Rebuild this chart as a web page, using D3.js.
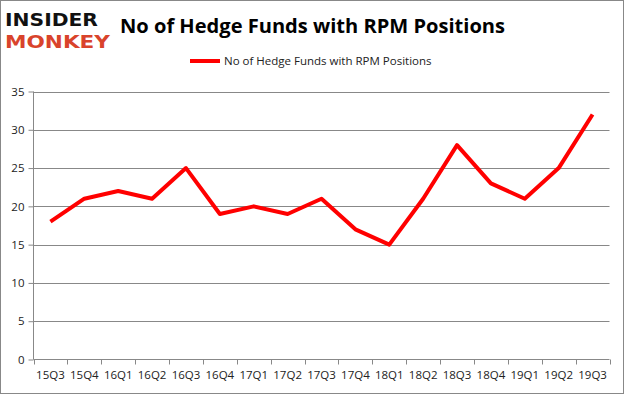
<!DOCTYPE html>
<html><head><meta charset="utf-8">
<script src="https://cdn.jsdelivr.net/npm/d3@7"></script>
<style>body{margin:0;background:#fff}svg{display:block}</style>
</head><body><svg id="c" width="625" height="395"></svg>
<script>
const categories = ["15Q3","15Q4","16Q1","16Q2","16Q3","16Q4","17Q1","17Q2","17Q3","17Q4","18Q1","18Q2","18Q3","18Q4","19Q1","19Q2","19Q3"];
const values = [18,21,22,21,25,19,20,19,21,17,15,21,28,23,21,25,32];
const yTicks = [0,5,10,15,20,25,30,35];
const seriesName = "No of Hedge Funds with RPM Positions";
const titleText = "No of Hedge Funds with RPM Positions";

(function(){
const svg = d3.select("#c");
svg.append("rect").attr("x",0.5).attr("y",0.5).attr("width",623).attr("height",393)
  .attr("fill","#fff").attr("stroke","#888");

const pl = 33.5, pr = 609.5, pt = 91.5, pb = 359.5;
const x = d3.scaleBand().domain(categories).range([pl, pr]);
const y = d3.scaleLinear().domain([0,35]).range([pb, pt]);

// grid
svg.append("g").selectAll("line").data(yTicks.filter(d=>d>0)).join("line")
  .attr("x1", pl).attr("x2", pr).attr("y1", d=>Math.round(y(d))+0.5).attr("y2", d=>Math.round(y(d))+0.5)
  .attr("stroke","#888").attr("stroke-width",1);

const yAxis = svg.append("g").attr("transform",`translate(${pl},0)`)
  .call(d3.axisLeft(y).tickValues(yTicks).tickSize(5).tickPadding(4));
yAxis.select(".domain").attr("stroke","#888").attr("d",`M0,${pt}V${pb}`);
yAxis.selectAll(".tick line").attr("stroke","#888");
yAxis.selectAll(".tick text").attr("font-family","'Open Sans', sans-serif").attr("font-size","11.5px").attr("fill","#222");

const xAxis = svg.append("g").attr("transform",`translate(0,${pb})`)
  .call(d3.axisBottom(x).tickSize(0).tickPadding(11));
xAxis.select(".domain").attr("stroke","#888").attr("d",`M${pl},0H${pr}`);
xAxis.selectAll(".tick line").remove();
xAxis.selectAll(".tick text").attr("font-family","'Open Sans', sans-serif").attr("font-size","11.5px").attr("fill","#222");
// boundary ticks
const bounds = categories.map(c=>x(c)).concat([pr]);
svg.append("g").selectAll("line").data(bounds).join("line")
  .attr("x1", d=>Math.round(d)+0.5).attr("x2", d=>Math.round(d)+0.5)
  .attr("y1", pb).attr("y2", pb+5).attr("stroke","#888");

// line
const line = d3.line().x((d,i)=>x(categories[i])+x.bandwidth()/2).y(d=>y(d));
svg.append("path").datum(values).attr("d",line).attr("fill","none")
  .attr("stroke","#ff0000").attr("stroke-width",4).attr("stroke-linejoin","round");

// title
svg.append("text").attr("x",120).attr("y",33).text(titleText)
  .attr("font-family","'Open Sans', sans-serif").attr("font-weight","bold").attr("font-size","20px")
  .attr("textLength",385).attr("lengthAdjust","spacingAndGlyphs").attr("fill","#000");

// legend
svg.append("line").attr("x1",190).attr("x2",220).attr("y1",61).attr("y2",61).attr("stroke","#ff0000").attr("stroke-width",4);
svg.append("text").attr("x",224).attr("y",65).text(seriesName)
  .attr("font-family","'Open Sans', sans-serif").attr("font-size","11.5px").attr("fill","#222");

// logo
svg.append("text").attr("x",5).attr("y",26).text("INSIDER")
  .attr("font-family","'DejaVu Sans', sans-serif").attr("font-weight","bold").attr("font-size","18px")
  .attr("textLength",93).attr("lengthAdjust","spacingAndGlyphs").attr("fill","#111");
svg.append("text").attr("x",5).attr("y",48).text("MONKEY")
  .attr("font-family","'DejaVu Sans', sans-serif").attr("font-weight","bold").attr("font-size","18px")
  .attr("textLength",105).attr("lengthAdjust","spacingAndGlyphs").attr("fill","#d9432b");
})();
</script></body></html>
